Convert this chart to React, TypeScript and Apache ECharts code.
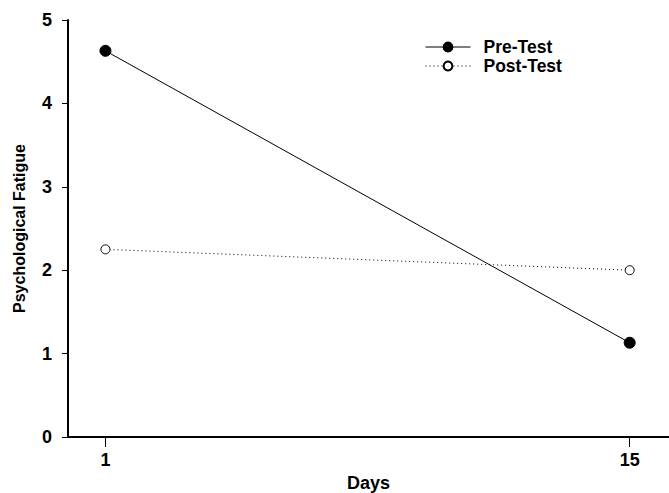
import React, { useEffect, useRef } from "react";
import * as echarts from "echarts";

const days = [1, 15];
const preTest = [4.63, 1.13];
const postTest = [2.25, 2.0];
const yTicks = [0, 1, 2, 3, 4, 5];
const xTickValues = [1, 15];

const FONT = "'Liberation Sans', Arial, sans-serif";

export default function App() {
  const ref = useRef<HTMLDivElement>(null);
  useEffect(() => {
    if (!ref.current) return;
    const chart = echarts.init(ref.current, undefined, { renderer: "svg" });
    chart.setOption({
      animation: false,
      backgroundColor: "#ffffff",
      textStyle: { fontFamily: FONT },
      grid: {
        left: 68,
        right: 0,
        top: 20,
        bottom: 56,
        containLabel: false,
        outerBoundsMode: "none",
      },
      legend: {
        orient: "vertical",
        left: 425,
        top: 38,
        padding: 0,
        itemWidth: 45,
        itemHeight: 11,
        itemGap: 1,
        lineStyle: { width: 1 },
        textStyle: {
          fontFamily: FONT,
          fontSize: 17.5,
          lineHeight: 18,
          fontWeight: "bold",
          color: "#000",
          padding: [0, 0, 0, 8],
        },
        data: ["Pre-Test", "Post-Test"],
      },
      xAxis: {
        type: "value",
        min: 0,
        max: 16.05,
        name: "Days",
        nameLocation: "middle",
        nameGap: 33,
        nameTextStyle: { fontFamily: FONT, fontSize: 18, fontWeight: "bold", color: "#000" },
        splitLine: { show: false },
        axisLine: { show: true, lineStyle: { color: "#000", width: 2 } },
        axisTick: {
          show: true,
          length: 10,
          customValues: xTickValues,
          lineStyle: { color: "#000", width: 1 },
        },
        axisLabel: {
          customValues: xTickValues,
          margin: 14,
          fontFamily: FONT,
          fontSize: 18,
          fontWeight: "bold",
          color: "#000",
        },
      },
      yAxis: {
        type: "value",
        min: yTicks[0],
        max: yTicks[yTicks.length - 1],
        interval: 1,
        name: "Psychological Fatigue",
        nameLocation: "middle",
        nameGap: 41,
        nameTextStyle: { fontFamily: FONT, fontSize: 16, fontWeight: "bold", color: "#000" },
        splitLine: { show: false },
        axisLine: { show: true, lineStyle: { color: "#000", width: 2 } },
        axisTick: { show: true, length: 6, lineStyle: { color: "#000", width: 1 } },
        axisLabel: {
          margin: 16,
          fontFamily: FONT,
          fontSize: 18,
          fontWeight: "bold",
          color: "#000",
        },
      },
      series: [
        {
          name: "Pre-Test",
          type: "line",
          data: days.map((d, i) => [d, preTest[i]]),
          symbol: "circle",
          symbolSize: 11,
          itemStyle: { color: "#000", borderColor: "#000", borderWidth: 1 },
          lineStyle: { color: "#000", width: 1, type: "solid" },
          z: 3,
        },
        {
          name: "Post-Test",
          type: "line",
          data: days.map((d, i) => [d, postTest[i]]),
          symbol: "circle",
          symbolSize: 9,
          itemStyle: { color: "#fff", borderColor: "#000", borderWidth: 1 },
          lineStyle: { color: "#000", width: 1, type: [1, 3] },
          z: 2,
        },
      ],
    });
    return () => chart.dispose();
  }, []);
  return (
    <div
      ref={ref}
      style={{ position: "fixed", left: 0, top: 0, width: 669, height: 493, background: "#fff" }}
    />
  );
}
